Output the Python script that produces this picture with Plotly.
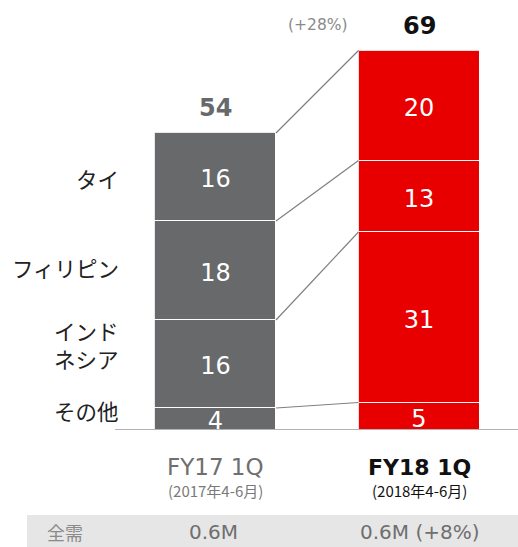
import plotly.graph_objects as go
import numpy as np

# ---- data ----
regions = ["その他", "インドネシア", "フィリピン", "タイ"]
region_labels = ["その他", "インド<br>ネシア", "フィリピン", "タイ"]
fy17 = [4, 16, 18, 16]
fy18 = [5, 31, 13, 20]
periods = ["FY17 1Q", "FY18 1Q"]
period_sub = ["(2017年4-6月)", "(2018年4-6月)"]
totals = [54, 69]
growth_label = "(+28%)"
market_row = ["全需", "0.6M", "0.6M (+8%)"]

GRAY = "#67696b"
RED = "#e80000"
FONT = "DejaVu Sans, Noto Sans CJK JP, sans-serif"
JP = "Noto Sans CJK JP, sans-serif"

x_pos = [215.5, 419]
bar_w = 121
TEXT_DROP = 0.8  # small downward nudge of in-bar labels (axis units)

fig = go.Figure()

for i, vals in enumerate([fy17, fy18]):
    col = GRAY if i == 0 else RED
    fig.add_trace(go.Bar(
        x=[x_pos[i]] * len(vals), y=vals, width=bar_w,
        marker=dict(color=col, line=dict(color="rgba(255,255,255,0.85)", width=1.5)),
        hoverinfo="skip", showlegend=False,
    ))
    cum = np.cumsum(vals)
    mids = cum - np.array(vals) / 2 - TEXT_DROP
    fig.add_trace(go.Scatter(
        x=[x_pos[i]] * len(vals), y=mids, mode="text",
        text=[str(v) for v in vals], textfont=dict(color="white", size=24, family=FONT),
        cliponaxis=True, showlegend=False, hoverinfo="skip",
    ))

fig.update_layout(barmode="stack", bargap=0)

# connector lines
c17 = np.cumsum(fy17)
c18 = np.cumsum(fy18)
left_x = x_pos[0] + bar_w / 2
right_x = x_pos[1] - bar_w / 2
for a, b in zip(c17, c18):
    fig.add_trace(go.Scatter(
        x=[left_x, right_x], y=[a, b], mode="lines",
        line=dict(color="#808080", width=1.2),
        showlegend=False, hoverinfo="skip", cliponaxis=False,
    ))

# baseline
fig.add_shape(type="line", xref="x", yref="y", x0=115, x1=518, y0=0, y1=0,
              line=dict(color="#9a9a9a", width=1.5))

# totals
fig.add_annotation(x=x_pos[0], y=totals[0], yshift=25, text="<b>%d</b>" % totals[0],
                   showarrow=False, font=dict(size=24, color=GRAY, family=FONT))
fig.add_annotation(x=x_pos[1], y=totals[1], yshift=25, text="<b>%d</b>" % totals[1],
                   showarrow=False, font=dict(size=24, color="#111111", family=FONT))
fig.add_annotation(x=318, y=totals[1], yshift=26, text=growth_label,
                   showarrow=False, font=dict(size=15.5, color="#8a8a8a", family=FONT))

# region labels on left, placed near the FY17 segments
mids17 = c17 - np.array(fy17) / 2
label_off = [1.5, 3.5, 0.5, -0.2]
for lab, yv, off in zip(region_labels, mids17, label_off):
    fig.add_annotation(x=121, y=yv + off, xanchor="right", text=lab, showarrow=False,
                       align="right",
                       font=dict(size=21.5, color="#222222", family=JP))

# category labels
H = 430.0
def py(p):
    return (H - p) / H

def below(x, p, text, size, color, family):
    fig.add_annotation(x=x, y=py(p), yref="paper", xanchor="center", yanchor="middle",
                       text=text, showarrow=False,
                       font=dict(size=size, color=color, family=family))

below(x_pos[0], 467, periods[0], 23, "#6f6f6f", FONT)
below(x_pos[1], 467, "<b>%s</b>" % periods[1], 22, "#111111", FONT)
below(x_pos[0], 490, period_sub[0], 15, "#7a7a7a", JP)
below(x_pos[1], 490, period_sub[1], 15, "#111111", JP)

# bottom table row
fig.add_shape(type="rect", xref="x", yref="paper", x0=27, x1=518, y0=py(547), y1=py(515),
              fillcolor="#e6e6e6", line=dict(width=0), layer="below")
below(65, 532, market_row[0], 18, "#8a8a8a", JP)
below(x_pos[0] - 2, 532, market_row[1], 20, "#6f6f6f", FONT)
below(x_pos[1] + 1, 532, market_row[2], 20, "#6f6f6f", FONT)

fig.update_layout(
    width=518, height=547,
    margin=dict(l=0, r=0, t=0, b=117),
    paper_bgcolor="white", plot_bgcolor="white",
    xaxis=dict(range=[0, 518], visible=False, fixedrange=True),
    yaxis=dict(range=[0, H / 5.5], visible=False, fixedrange=True),
    font=dict(family=FONT),
)

fig.write_html("out.html")
